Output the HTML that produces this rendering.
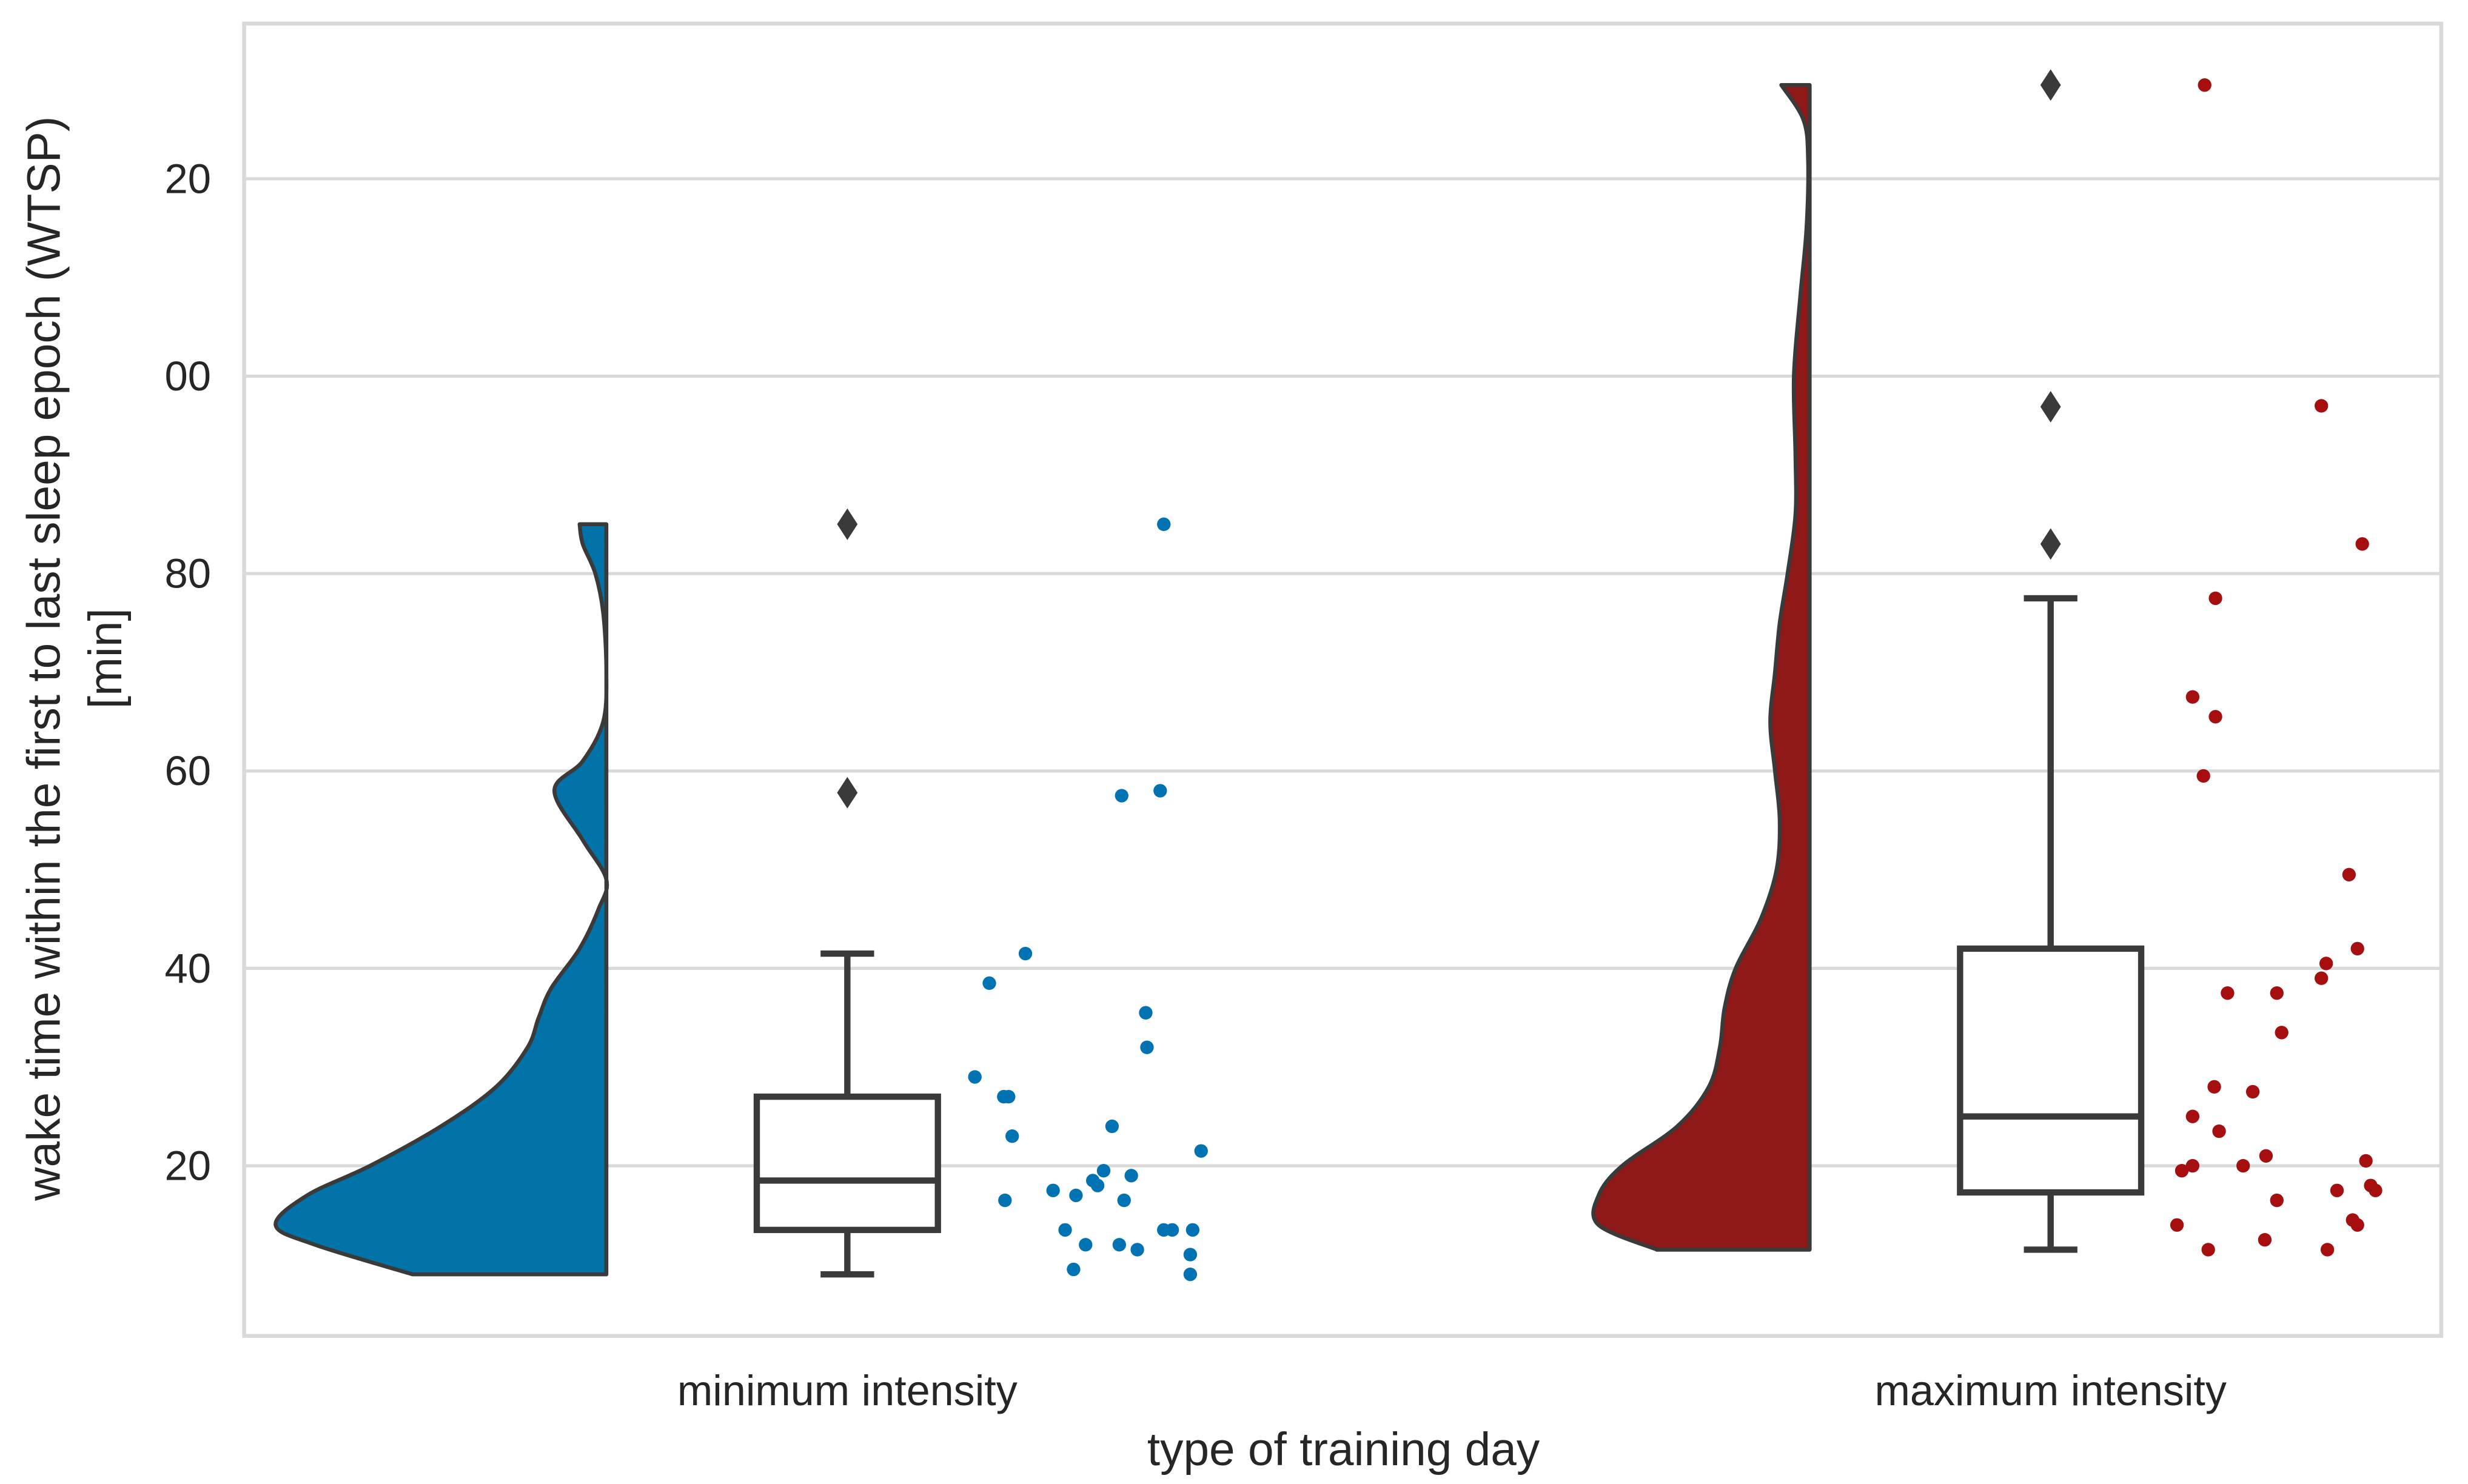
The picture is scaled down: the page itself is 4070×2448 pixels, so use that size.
<!DOCTYPE html>
<html><head><meta charset="utf-8"><style>
html,body{margin:0;padding:0;background:#fff}
svg{display:block}
text{font-family:"Liberation Sans",Arial,sans-serif;fill:#262626}
</style></head><body>
<svg id="chart" width="4070" height="2448" viewBox="0 0 1567 942" preserveAspectRatio="none" xmlns="http://www.w3.org/2000/svg"></svg>
<script>
const categories=["minimum intensity","maximum intensity"];
const tickValues=[20,40,60,80,100,120];
const tickLabels=["20","40","60","80","00","20"];
const violinMinVals=[9,12,14,17,20,24,28,32,35,38,42,46,49,53,58,61,65,70,76,80,83,85];
const violinMinDens=[123,185,210,190,150,105,70,50,43,35,17,5,0,15,33,15,2,0,2,7,15,17];
const violinMaxVals=[11.5,14,17,20,24,28,32,36,40,45,50,55,60,65,70,75,80,86,92,100,108,115,122,126,129.5];
const violinMaxDens=[97,134,134,119,84,64,57,54,47,31,21,19,22,25,22,19,14,9,9,10,6,2,1,4,18];
const boxMin=[9,13.5,18.5,27,41.5];
const boxMax=[11.5,17.3,25,42,77.5];
const outliersMin=[57.8,85];
const outliersMax=[83,96.9,129.5];
const pointsMinVals=[85,57.5,58,41.5,38.5,35.5,32,29,27,27,23,24,21.5,16.5,17.5,17,18.5,18,19.5,19,16.5,13.5,12,12,11.5,13.5,13.5,13.5,9.5,11,9];
const pointsMinJitter=[.263,.228,.260,.148,.118,.248,.249,.106,.130,.134,.137,.220,.294,.131,.171,.190,.204,.208,.213,.236,.230,.181,.198,.226,.241,.263,.270,.287,.188,.285,.285];
const pointsMaxVals=[129.5,97,83,77.5,67.5,65.5,59.5,49.5,42,40.5,39,37.5,37.5,33.5,28,27.5,25,23.5,21,20,20,19.5,20.5,18,17.5,17.5,16.5,14,14.5,14,12.5,11.5,11.5];
const pointsMaxJitter=[.128,.225,.259,.137,.118,.137,.127,.248,.255,.229,.225,.147,.188,.192,.136,.168,.118,.140,.179,.118,.160,.109,.262,.266,.270,.238,.188,.105,.251,.255,.178,.131,.230];

const svg=document.getElementById('chart');
const NS='http://www.w3.org/2000/svg';
const L=155,R=1550,T=15,B=848;
const bandW=764, cx0=538;
const y=v=>740-(v-20)*6.265;
const xc=i=>cx0+i*bandW;
function el(tag,attrs,parent){const e=document.createElementNS(NS,tag);for(const k in attrs)e.setAttribute(k,attrs[k]);(parent||svg).appendChild(e);return e;}

tickValues.forEach((v,i)=>{
  const g=el('line',{x1:L,x2:R,y1:y(v),y2:y(v),stroke:'#d9d9d9','stroke-width':2});
  
  
  const t=el('text',{x:134,y:y(v)+9,'text-anchor':'end','font-size':26.5});
  t.textContent=tickLabels[i];
  
  
});
const frame=el('rect',{x:L,y:T,width:R-L,height:B-T,fill:'none',stroke:'#d9d9d9','stroke-width':2.5});



function smoothPath(pts){
  let d='M'+pts[0][0]+','+pts[0][1];
  for(let i=0;i<pts.length-1;i++){
    const p0=pts[Math.max(0,i-1)],p1=pts[i],p2=pts[i+1],p3=pts[Math.min(pts.length-1,i+2)];
    const c1=[p1[0]+(p2[0]-p0[0])/6,p1[1]+(p2[1]-p0[1])/6];
    const c2=[p2[0]-(p3[0]-p1[0])/6,p2[1]-(p3[1]-p1[1])/6];
    d+=' C'+c1[0]+','+c1[1]+' '+c2[0]+','+c2[1]+' '+p2[0]+','+p2[1];
  }
  return d;
}
function violin(i,vals,dens,color,name){
  const edge=xc(i)-153;
  const pts=vals.map((v,k)=>[edge-dens[k],y(v)]);
  let d=smoothPath(pts);
  d+=' L'+edge+','+y(vals[vals.length-1])+' L'+edge+','+y(vals[0])+' Z';
  const p=el('path',{d:d,fill:color,stroke:'#3a3a3a','stroke-width':2.5,'stroke-linejoin':'round'});
  
  
}
violin(0,violinMinVals,violinMinDens,'#0173a8','violin-minimum');
violin(1,violinMaxVals,violinMaxDens,'#8f1818','violin-maximum');

function box(i,s,outs,name){
  const c=xc(i),hw=57.5;
  const g=el('g',{});
  
  
  const st={stroke:'#3a3a3a','stroke-width':4,fill:'none'};
  el('line',Object.assign({x1:c,x2:c,y1:y(s[0]),y2:y(s[1])},st),g);
  el('line',Object.assign({x1:c,x2:c,y1:y(s[3]),y2:y(s[4])},st),g);
  el('line',Object.assign({x1:c-17,x2:c+17,y1:y(s[0]),y2:y(s[0])},st),g);
  el('line',Object.assign({x1:c-17,x2:c+17,y1:y(s[4]),y2:y(s[4])},st),g);
  el('rect',Object.assign({x:c-hw,y:y(s[3]),width:2*hw,height:y(s[1])-y(s[3])},st,{fill:'#fff'}),g);
  el('line',Object.assign({x1:c-hw,x2:c+hw,y1:y(s[2]),y2:y(s[2])},st),g);
  outs.forEach(v=>{
    const o=el('path',{d:`M${c},${y(v)-10} L${c+6.5},${y(v)} L${c},${y(v)+10} L${c-6.5},${y(v)} Z`,fill:'#3a3a3a'},g);
    
    
  });
}
box(0,boxMin,outliersMin,'boxplot-minimum');
box(1,boxMax,outliersMax,'boxplot-maximum');

function strip(i,vals,jit,color,name){
  vals.forEach((v,k)=>{
    const c=el('circle',{cx:xc(i)+jit[k]*bandW,cy:y(v),r:4.3,fill:color});
    
    
  });
}
strip(0,pointsMinVals,pointsMinJitter,'#0173b2','point-minimum');
strip(1,pointsMaxVals,pointsMaxJitter,'#a50f0f','point-maximum');

categories.forEach((c,i)=>{
  const t=el('text',{x:xc(i),y:892,'text-anchor':'middle','font-size':27});
  t.textContent=c;
  
  
});
const xt=el('text',{x:853,y:930,'text-anchor':'middle','font-size':29.5});
xt.textContent='type of training day';


const yt=el('text',{transform:'translate(38,418) rotate(-90)','text-anchor':'middle','font-size':29.5});


const t1=el('tspan',{x:0,y:0},yt);t1.textContent='wake time within the first to last sleep epoch (WTSP)';
const t2=el('tspan',{x:0,y:39},yt);t2.textContent='[min]';
</script>
</body></html>
